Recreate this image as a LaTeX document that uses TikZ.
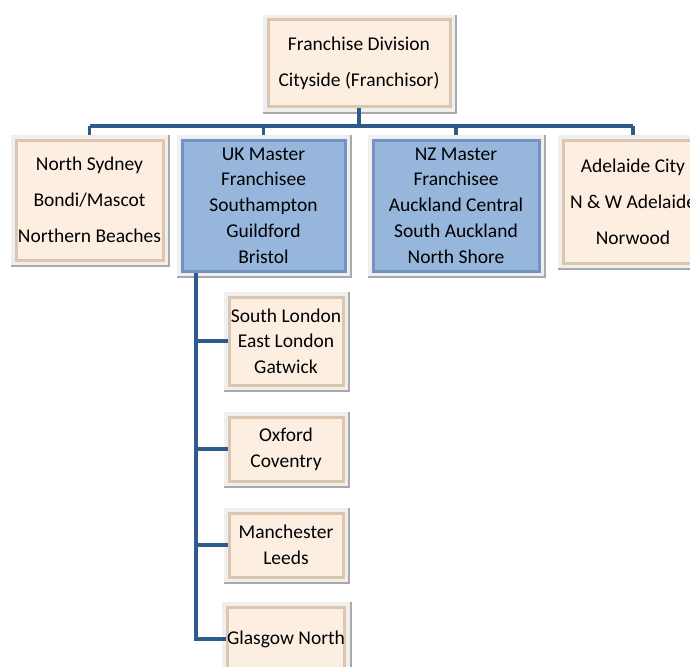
\documentclass[tikz,border=0pt]{standalone}
\usepackage{fontspec}
\setmainfont{Carlito}
\usetikzlibrary{positioning,calc}
\definecolor{creamfill}{HTML}{FCEFE1}
\definecolor{creamedge}{HTML}{DCC6B0}
\definecolor{bluefill}{HTML}{97B6DC}
\definecolor{blueedge}{HTML}{7394C0}
\definecolor{linkblue}{HTML}{2F5A8C}
\definecolor{framegray}{HTML}{EFEFEF}
\definecolor{shadegray}{HTML}{A9A9A9}

\begin{document}
\begin{tikzpicture}[
  x=1pt, y=1pt,
  box/.style={rectangle, align=center, inner sep=0pt, line width=3pt,
    font=\fontsize{19.5}{25.7}\selectfont,
    preaction={draw=shadegray, line width=12pt, transform canvas={shift={(1pt,-1pt)}}},
    preaction={draw=framegray, line width=10pt}},
  unit/.style={box, fill=creamfill, draw=creamedge},
  master/.style={box, fill=bluefill, draw=blueedge},
  airy/.style={font=\fontsize{19.5}{36}\selectfont},
  link/.style={draw=linkblue, line width=3.5pt}
]
\clip (0,0) rectangle (690,-666);
\fill[white] (0,0) rectangle (690,-666);
% --- franchisor (top) ---
\node[unit, airy, minimum width=182pt, minimum height=87pt] (top) at (359,-63.5)
  {Franchise Division\\Cityside (Franchisor)};
% --- second row ---
\node[unit, airy, minimum width=147pt, minimum height=120pt] (syd) at (89.5,-200)
  {North Sydney\\Bondi/Mascot\\Northern Beaches};
\node[master, minimum width=163pt, minimum height=131pt] (uk) at (263.5,-205.5)
  {UK Master\\Franchisee\\Southampton\\Guildford\\Bristol};
\node[master, minimum width=166pt, minimum height=131pt] (nz) at (456,-205.5)
  {NZ Master\\Franchisee\\Auckland Central\\South Auckland\\North Shore};
\node[unit, airy, minimum width=140pt, minimum height=123pt] (adl) at (633,-201.5)
  {Adelaide City\\N \& W Adelaide\\Norwood};
% --- UK sub-franchisees ---
\node[unit, minimum width=114pt, minimum height=88pt] (sld) at (286,-341)
  {South London\\East London\\Gatwick};
\node[unit, minimum width=114pt, minimum height=64pt] (oxf) at (286,-449)
  {Oxford\\Coventry};
\node[unit, minimum width=114pt, minimum height=64pt] (man) at (286,-545)
  {Manchester\\Leeds};
\node[unit, minimum width=114pt, minimum height=64pt] (gla) at (286,-639)
  {Glasgow North};
% --- connectors ---
\coordinate (bar) at (0,-126);
\draw[link] (top.south) -- (top.south |- bar);
\draw[link] (syd.north |- bar) -- (adl.north |- bar);
\foreach \n in {syd,uk,nz,adl}
  \draw[link] (\n.north |- bar) -- ([yshift=4pt]\n.north);
\coordinate (spine) at (196,0);
\draw[link] (spine |- uk.south) -- (spine |- gla.west) -- (gla.west);
\foreach \n in {sld,oxf,man}
  \draw[link] (spine |- \n.west) -- (\n.west);
\end{tikzpicture}
\end{document}
